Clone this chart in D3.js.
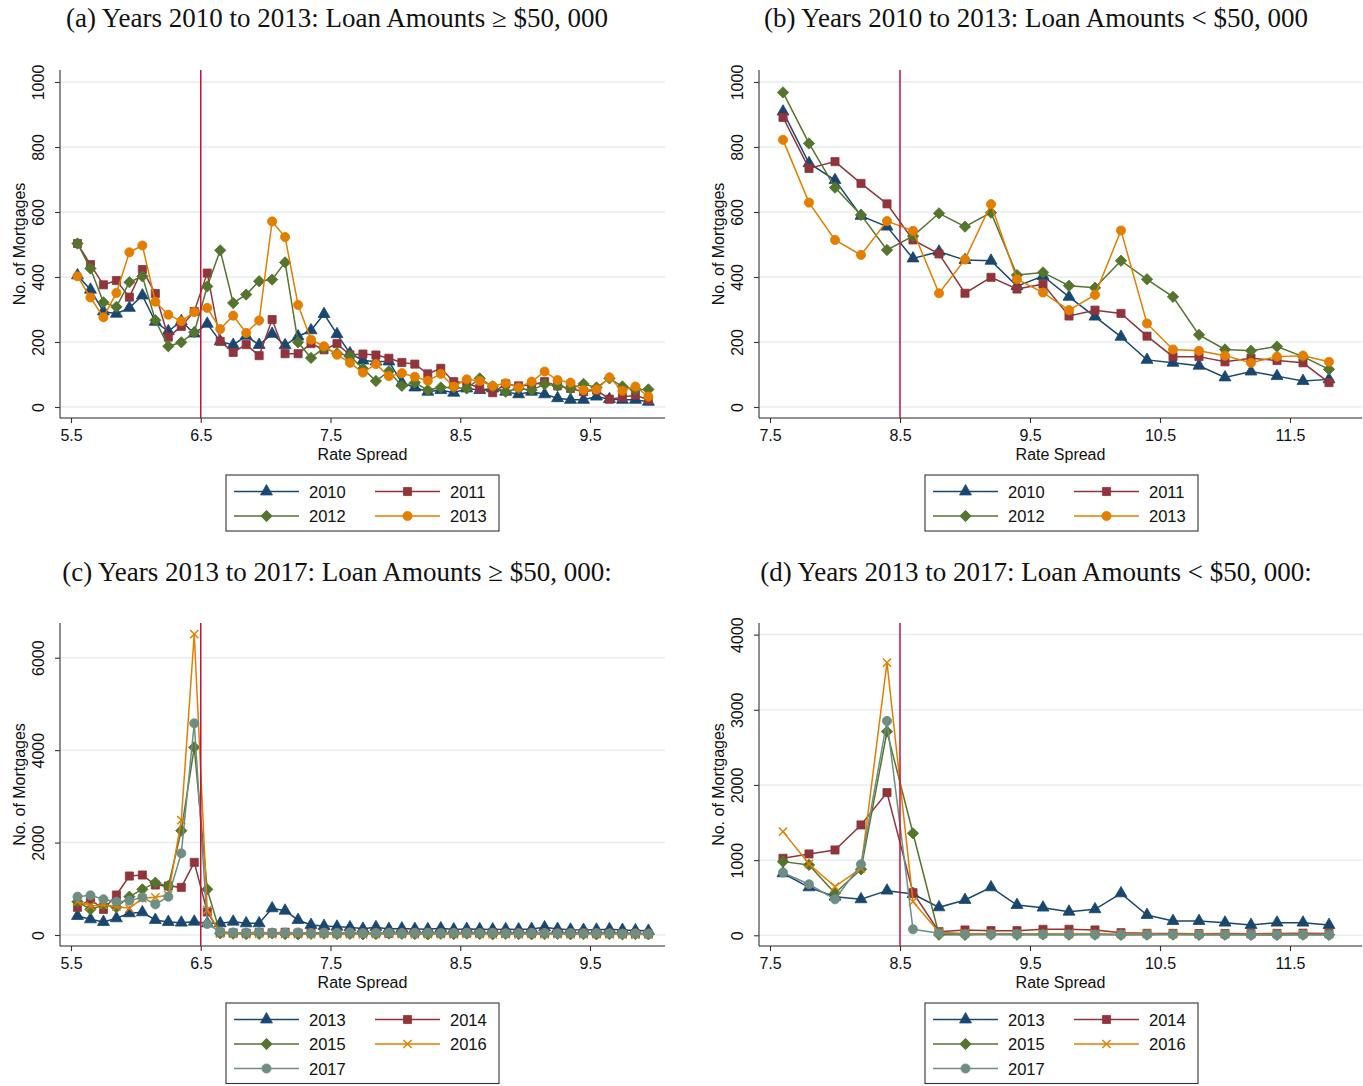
<!DOCTYPE html>
<html>
<head>
<meta charset="utf-8">
<script src="https://cdn.jsdelivr.net/npm/d3@7"></script>
<style>
  body { margin: 0; background: #fff; }
  svg { display: block; }
</style>
</head>
<body>
<svg id="chart" width="1363" height="1086"></svg>
<script>
// ---- Rate spread bins ----
const rateHigh = [5.55, 5.65, 5.75, 5.85, 5.95, 6.05, 6.15, 6.25, 6.35, 6.45,
                  6.55, 6.65, 6.75, 6.85, 6.95, 7.05, 7.15, 7.25, 7.35, 7.45,
                  7.55, 7.65, 7.75, 7.85, 7.95, 8.05, 8.15, 8.25, 8.35, 8.45,
                  8.55, 8.65, 8.75, 8.85, 8.95, 9.05, 9.15, 9.25, 9.35, 9.45,
                  9.55, 9.65, 9.75, 9.85, 9.95];
const rateLow = [7.6, 7.8, 8.0, 8.2, 8.4, 8.6, 8.8, 9.0, 9.2, 9.4, 9.6,
                 9.8, 10.0, 10.2, 10.4, 10.6, 10.8, 11.0, 11.2, 11.4, 11.6, 11.8];

// ---- Axis ticks ----
const xTicksHigh = [5.5, 6.5, 7.5, 8.5, 9.5];
const xTicksLow = [7.5, 8.5, 9.5, 10.5, 11.5];
const yTicksAB = [0, 200, 400, 600, 800, 1000];
const yTicksC = [0, 2000, 4000, 6000];
const yTicksD = [0, 1000, 2000, 3000, 4000];

// ---- (a) 2010-2013, loans >= $50,000 ----
const a2010 = [405, 361, 294, 287, 305, 343, 262, 233, 264, 226, 256, 202, 191, 219, 191, 225, 190, 217, 236, 286,
               224, 165, 143, 140, 140, 75, 60, 47, 52, 44, 57, 52, 57, 47, 39, 47, 39, 27, 22, 22, 32, 24, 22, 22, 16];
const a2011 = [503, 438, 376, 389, 338, 423, 349, 215, 248, 294, 412, 202, 168, 192, 158, 269, 164, 164, 195, 176,
               195, 160, 163, 160, 150, 137, 132, 102, 119, 78, 75, 57, 44, 71, 65, 68, 78, 65, 57, 47, 52, 24, 30, 37, 22];
const a2012 = [503, 426, 322, 308, 384, 402, 267, 187, 199, 230, 371, 482, 320, 346, 387, 392, 445, 199, 151, 182,
               165, 157, 118, 80, 110, 65, 75, 52, 60, 60, 57, 88, 63, 47, 57, 52, 70, 65, 57, 71, 60, 88, 63, 54, 54];
const a2013 = [402, 337, 276, 351, 476, 497, 324, 284, 264, 292, 305, 240, 281, 228, 266, 571, 523, 314, 207, 187,
               161, 136, 106, 132, 95, 104, 93, 81, 102, 63, 85, 80, 65, 73, 60, 78, 109, 83, 75, 52, 54, 91, 50, 63, 32];

// ---- (b) 2010-2013, loans < $50,000 ----
const b2010 = [909, 750, 698, 588, 555, 457, 478, 452, 450, 372, 403, 339, 278, 216, 145, 136, 127, 91, 109, 95, 80, 85];
const b2011 = [891, 734, 755, 688, 625, 514, 471, 350, 399, 363, 378, 280, 298, 288, 218, 155, 155, 139, 150, 143, 136, 75];
const b2012 = [968, 811, 675, 591, 483, 526, 596, 555, 598, 406, 414, 373, 367, 450, 393, 339, 222, 177, 173, 186, 155, 116];
const b2013 = [822, 629, 514, 468, 572, 542, 350, 454, 624, 393, 352, 298, 345, 543, 257, 177, 173, 158, 136, 155, 158, 139];

// ---- (c) 2013-2017, loans >= $50,000 ----
const c2013 = [411, 339, 281, 361, 469, 490, 325, 281, 267, 288, 252, 252, 288, 252, 252, 577, 526, 325, 216, 195,
               180, 166, 135, 170, 130, 140, 130, 125, 145, 120, 130, 125, 120, 125, 120, 130, 165, 130, 115, 110,
               115, 125, 110, 100, 90];
const c2014 = [599, 772, 555, 865, 1276, 1298, 1082, 1060, 1031, 1572, 498, 50,
               45, 40, 55, 45, 60, 40, 50, 45, 35, 50, 40, 45, 35, 40, 50, 45, 40, 35, 45, 40, 50, 35, 40, 45, 40,
               35, 40, 45, 30, 35, 30, 30, 25];
const c2015 = [721, 555, 649, 599, 829, 988, 1132, 1060, 2257, 4060, 988, 36,
               30, 20, 25, 35, 20, 15, 25, 30, 20, 25, 15, 20, 30, 25, 20, 15, 25, 20, 30, 20, 15, 25, 20, 15, 20,
               25, 15, 20, 15, 20, 15, 20, 15];
const c2016 = [721, 627, 649, 613, 577, 793, 815, 865, 2488, 6512, 541, 36,
               25, 20, 30, 20, 25, 20, 15, 25, 20, 20, 15, 20, 25, 20, 15, 20, 20, 15, 25, 20, 15, 20, 15, 20, 15,
               20, 15, 15, 20, 15, 15, 10, 15];
const c2017 = [829, 858, 772, 721, 743, 815, 663, 829, 1767, 4580, 238, 72,
               55, 50, 60, 45, 50, 55, 40, 50, 45, 55, 40, 45, 50, 40, 45, 50, 40, 45, 50, 40, 45, 35, 40, 45, 40,
               35, 40, 35, 40, 35, 30, 35, 30];

// ---- (d) 2013-2017, loans < $50,000 ----
const d2013 = [825, 638, 514, 479, 594, 549, 372, 470, 638, 403, 368, 314, 346, 558, 270, 190, 190, 168, 137, 168, 168, 137];
const d2014 = [1024, 1082, 1135, 1468, 1898, 567, 48, 71, 62, 62, 79, 80, 71, 35, 26, 25, 22, 24, 22, 25, 28, 25];
const d2015 = [980, 936, 559, 878, 2710, 1357, 8, 6, 10, 8, 12, 8, 10, 6, 8, 10, 6, 8, 6, 5, 8, 6];
const d2016 = [1379, 949, 647, 891, 3627, 448, 40, 25, 22, 20, 20, 18, 20, 15, 18, 15, 16, 15, 14, 15, 15, 14];
const d2017 = [834, 679, 479, 944, 2852, 80, 26, 15, 12, 15, 12, 10, 10, 8, 10, 10, 8, 8, 6, 8, 8, 6];

// ---- Styling ----
const COL = { navy: '#1a476f', maroon: '#90353b', green: '#55752f', orange: '#e37e00', teal: '#6e8e84' };
const CUTOFF_COLOR = '#c0143c';
const SANS = '"Liberation Sans", Arial, Helvetica, sans-serif';
const SERIF = '"Liberation Serif", "Times New Roman", Times, serif';

const svg = d3.select('#chart');

function symbolPath(shape) {
  switch (shape) {
    case 'triangle': return d3.symbol(d3.symbolTriangle, 62)();
    case 'square':   return d3.symbol(d3.symbolSquare, 66)();
    case 'diamond':  return d3.symbol(d3.symbolSquare, 64)();
    case 'circle':   return d3.symbol(d3.symbolCircle, 66)();
    case 'x':        return d3.symbol(d3.symbolX, 46)();
  }
}

function drawMarker(sel, shape, color, cx, cy) {
  const p = sel.append('path')
    .attr('d', symbolPath(shape))
    .attr('transform', `translate(${cx},${cy})` + (shape === 'diamond' ? ' rotate(45)' : ''));
  if (shape === 'x') {
    p.attr('fill', 'none').attr('stroke', color).attr('stroke-width', 1.4);
  } else {
    p.attr('fill', color).attr('stroke', color).attr('stroke-width', 0.8);
  }
}

function drawPanel(p) {
  const g = svg.append('g');
  const x = d3.scaleLinear().domain(p.xDom).range(p.xRange);
  const y = d3.scaleLinear().domain(p.yDom).range(p.yRange);

  // title
  g.append('text')
    .attr('x', p.titleX).attr('y', p.titleY)
    .attr('text-anchor', 'middle')
    .style('font-family', SERIF).style('font-size', '27px').attr('fill', '#111')
    .text(p.title);

  // horizontal gridlines
  g.append('g').selectAll('line').data(p.yTicks).join('line')
    .attr('x1', p.left).attr('x2', p.right)
    .attr('y1', d => y(d)).attr('y2', d => y(d))
    .attr('stroke', '#e6eeef').attr('stroke-width', 1.5);

  // y axis
  const ya = g.append('g').attr('transform', `translate(${p.left},0)`)
    .call(d3.axisLeft(y).tickValues(p.yTicks).tickSize(5).tickFormat(d3.format('d')));
  ya.select('.domain').remove();
  ya.selectAll('.tick line').attr('stroke', '#333').attr('stroke-width', 1.1);
  ya.selectAll('.tick text')
    .attr('transform', 'rotate(-90)')
    .attr('x', 0).attr('y', -16).attr('dy', 0)
    .attr('text-anchor', 'middle')
    .style('font-family', SANS).style('font-size', '16px').attr('fill', '#111');
  g.append('line')
    .attr('x1', p.left).attr('x2', p.left).attr('y1', p.top).attr('y2', p.bottom)
    .attr('stroke', '#444').attr('stroke-width', 1.2);

  // x axis
  const xa = g.append('g').attr('transform', `translate(0,${p.bottom})`)
    .call(d3.axisBottom(x).tickValues(p.xTicks).tickSize(5).tickFormat(d3.format('.1f')));
  xa.select('.domain').remove();
  xa.selectAll('.tick line').attr('stroke', '#333').attr('stroke-width', 1.1);
  xa.selectAll('.tick text')
    .attr('y', 12)
    .style('font-family', SANS).style('font-size', '16px').attr('fill', '#111');
  g.append('line')
    .attr('x1', p.left).attr('x2', p.right).attr('y1', p.bottom).attr('y2', p.bottom)
    .attr('stroke', '#222').attr('stroke-width', 1.2);

  // axis titles
  g.append('text')
    .attr('x', (p.left + p.right) / 2).attr('y', p.bottom + 42)
    .attr('text-anchor', 'middle')
    .style('font-family', SANS).style('font-size', '16px').attr('fill', '#111')
    .text('Rate Spread');
  g.append('text')
    .attr('transform', `translate(${p.left - 35},${(p.top + p.bottom) / 2}) rotate(-90)`)
    .attr('text-anchor', 'middle')
    .style('font-family', SANS).style('font-size', '16px').attr('fill', '#111')
    .text('No. of Mortgages');

  // series
  const line = d3.line().x(d => x(d.r)).y(d => y(d.v));
  p.series.forEach(s => {
    const pts = p.rates.map((r, i) => ({ r, v: s.values[i] }));
    const sg = g.append('g');
    sg.append('path').attr('d', line(pts))
      .attr('fill', 'none').attr('stroke', s.color).attr('stroke-width', 1.5);
    pts.forEach(d => drawMarker(sg, s.shape, s.color, x(d.r), y(d.v)));
  });

  // cutoff line
  g.append('line')
    .attr('x1', x(p.cutoff)).attr('x2', x(p.cutoff))
    .attr('y1', p.top).attr('y2', p.bottom)
    .attr('stroke', CUTOFF_COLOR).attr('stroke-width', 1.5);

  // legend
  const L = p.legend;
  const lg = g.append('g');
  const rows = Math.ceil(p.series.length / 2);
  lg.append('rect')
    .attr('x', L.x).attr('y', L.y).attr('width', L.w).attr('height', 16.5 + (rows - 1) * 24.5 + 15)
    .attr('fill', '#fff').attr('stroke', '#333').attr('stroke-width', 1.1);
  p.series.forEach((s, i) => {
    const col = i % 2, row = Math.floor(i / 2);
    const lx = L.x + 8 + col * 141;
    const ly = L.y + 16.5 + row * 24.5;
    lg.append('line').attr('x1', lx).attr('x2', lx + 65).attr('y1', ly).attr('y2', ly)
      .attr('stroke', s.color).attr('stroke-width', 1.5);
    drawMarker(lg, s.shape, s.color, lx + 32.5, ly);
    lg.append('text').attr('x', lx + 75).attr('y', ly + 6)
      .style('font-family', SANS).style('font-size', '16.5px').attr('fill', '#111')
      .text(s.name);
  });
}

const seriesAB = (v) => [
  { name: '2010', values: v[0], color: COL.navy, shape: 'triangle' },
  { name: '2011', values: v[1], color: COL.maroon, shape: 'square' },
  { name: '2012', values: v[2], color: COL.green, shape: 'diamond' },
  { name: '2013', values: v[3], color: COL.orange, shape: 'circle' }
];
const seriesCD = (v) => [
  { name: '2013', values: v[0], color: COL.navy, shape: 'triangle' },
  { name: '2014', values: v[1], color: COL.maroon, shape: 'square' },
  { name: '2015', values: v[2], color: COL.green, shape: 'diamond' },
  { name: '2016', values: v[3], color: COL.orange, shape: 'x' },
  { name: '2017', values: v[4], color: COL.teal, shape: 'circle' }
];

const panels = [
  { title: '(a) Years 2010 to 2013: Loan Amounts \u2265 $50, 000', titleX: 337, titleY: 27,
    rates: rateHigh, xTicks: xTicksHigh, xDom: [5.5, 9.5], xRange: [71, 590],
    left: 60, right: 665, top: 70, bottom: 418,
    yTicks: yTicksAB, yDom: [0, 1000], yRange: [407, 82], cutoff: 6.5,
    series: seriesAB([a2010, a2011, a2012, a2013]),
    legend: { x: 226, y: 475, w: 273 } },
  { title: '(b) Years 2010 to 2013: Loan Amounts < $50, 000', titleX: 1036, titleY: 27,
    rates: rateLow, xTicks: xTicksLow, xDom: [7.5, 11.5], xRange: [770, 1290],
    left: 759, right: 1362, top: 70, bottom: 418,
    yTicks: yTicksAB, yDom: [0, 1000], yRange: [407, 82], cutoff: 8.5,
    series: seriesAB([b2010, b2011, b2012, b2013]),
    legend: { x: 925, y: 475, w: 273 } },
  { title: '(c) Years 2013 to 2017: Loan Amounts \u2265 $50, 000:', titleX: 337, titleY: 581,
    rates: rateHigh, xTicks: xTicksHigh, xDom: [5.5, 9.5], xRange: [71, 590],
    left: 60, right: 665, top: 623, bottom: 946,
    yTicks: yTicksC, yDom: [0, 6000], yRange: [935, 657.7], cutoff: 6.5,
    series: seriesCD([c2013, c2014, c2015, c2016, c2017]),
    legend: { x: 226, y: 1003, w: 273 } },
  { title: '(d) Years 2013 to 2017: Loan Amounts < $50, 000:', titleX: 1036, titleY: 581,
    rates: rateLow, xTicks: xTicksLow, xDom: [7.5, 11.5], xRange: [770, 1290],
    left: 759, right: 1362, top: 623, bottom: 946,
    yTicks: yTicksD, yDom: [0, 4000], yRange: [935.3, 634.6], cutoff: 8.5,
    series: seriesCD([d2013, d2014, d2015, d2016, d2017]),
    legend: { x: 925, y: 1003, w: 273 } }
];

panels.forEach(drawPanel);
</script>
</body>
</html>
